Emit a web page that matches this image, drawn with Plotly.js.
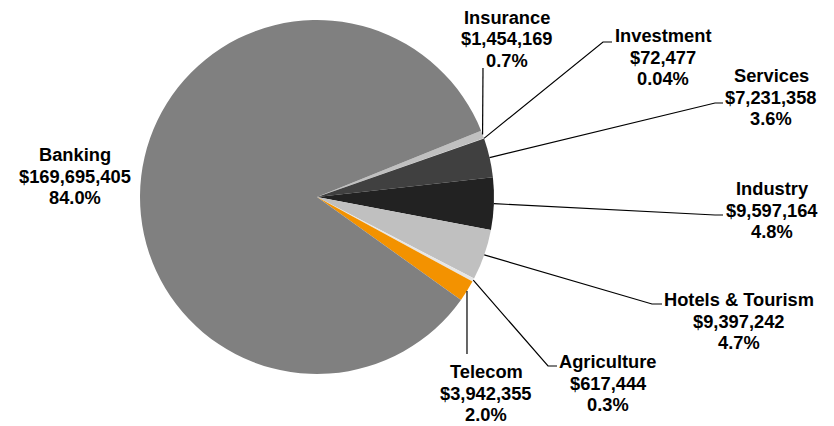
<!DOCTYPE html>
<html>
<head>
<meta charset="utf-8">
<script src="https://cdn.plot.ly/plotly-3.0.1.min.js"></script>
<style>html,body{margin:0;padding:0;background:#fff;}#chart{width:834px;height:426px;}</style>
</head>
<body>
<div id="chart"></div>
<script>
// ---- data ----
const sectors = ["Insurance", "Investment", "Services", "Industry", "Hotels & Tourism", "Agriculture", "Telecom", "Banking"];
const amounts = [1454169, 72477, 7231358, 9597164, 9397242, 617444, 3942355, 169695405];
const sliceColors = ["#c0c0c0", "#ffffff", "#404040", "#222222", "#c0c0c0", "#e6e6e6", "#f39200", "#808080"];

// ---- layout (pixels) ----
const W = 834, H = 426;
const CX = 317, CY = 197, R = 177;
const ROT = 68;
const FONT_SIZE = 18.3;
const LINE_GAP = 21.5;
// label block centers [x, y]
const labelCenters = [[507, 39], [663, 57], [771, 97], [772, 210], [739, 321], [608, 383], [486, 393], [75, 176]];
// leader-line bends (null = no leader)
const leaderBends = [
  [[483, 68]],
  [[603, 42], [612, 42]],
  [[715, 103], [723, 103]],
  [[715, 215], [723, 215]],
  [[652, 304], [662, 304]],
  [[548, 366], [557, 366]],
  [[467, 354]],
  null
];

const px = x => x / W;
const py = y => 1 - y / H;
const total = amounts.reduce((a, b) => a + b, 0);
const fmtMoney = v => "$" + v.toLocaleString("en-US");
const fmtPct = v => {
  const p = v / total * 100;
  return (p < 0.1 ? p.toFixed(2) : p.toFixed(1)) + "%";
};

const annotations = [];
const shapes = [];
let cum = 0;
amounts.forEach((v, i) => {
  const mid = ROT + (cum + v / 2) / total * 360;
  cum += v;
  const a = mid * Math.PI / 180;
  const ax = CX + R * Math.sin(a), ay = CY - R * Math.cos(a);
  const lc = labelCenters[i];
  const lines = [sectors[i], fmtMoney(v), fmtPct(v)];
  lines.forEach((t, k) => {
    annotations.push({
      x: px(lc[0]), y: py(lc[1] + (k - 1) * LINE_GAP), xref: "paper", yref: "paper",
      xanchor: "center", yanchor: "middle", showarrow: false, align: "center",
      text: "<b>" + t + "</b>",
      font: {family: "Liberation Sans, Arial, sans-serif", size: FONT_SIZE, color: "#000"}
    });
  });
  if (leaderBends[i]) {
    let path = "M " + px(ax) + "," + py(ay);
    leaderBends[i].forEach(p => { path += " L " + px(p[0]) + "," + py(p[1]); });
    shapes.push({type: "path", xref: "paper", yref: "paper", path: path,
      line: {color: "#000", width: 1.2}});
  }
});

const trace = {
  type: "pie",
  labels: sectors,
  values: amounts,
  sort: false,
  direction: "clockwise",
  rotation: ROT,
  textinfo: "none",
  hoverinfo: "label+value+percent",
  marker: {colors: sliceColors, line: {width: 0}},
  domain: {x: [(CX - R) / W, (CX + R) / W], y: [1 - (CY + R) / H, 1 - (CY - R) / H]},
  showlegend: false
};

const layout = {
  width: W, height: H,
  margin: {l: 0, r: 0, t: 0, b: 0},
  paper_bgcolor: "#fff",
  showlegend: false,
  annotations: annotations,
  shapes: shapes
};

Plotly.newPlot("chart", [trace], layout, {displayModeBar: false, staticPlot: true});
</script>
</body>
</html>
